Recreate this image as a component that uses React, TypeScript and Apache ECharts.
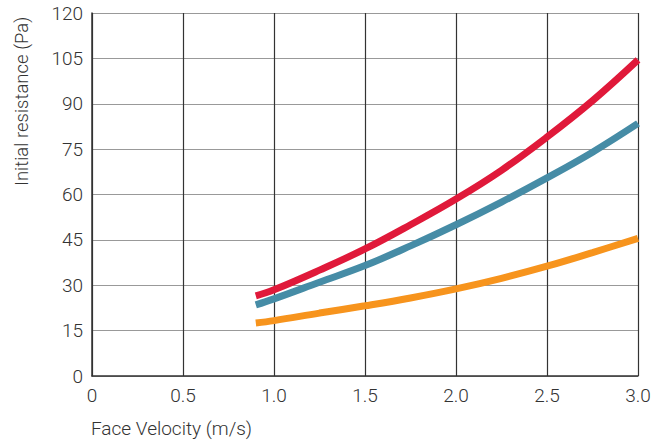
import React, { useEffect, useRef } from "react";
import * as echarts from "echarts";

const xValues = [0.9, 1.0, 1.25, 1.5, 1.75, 2.0, 2.25, 2.5, 2.75, 3.0];
const redValues = [26.5, 28.5, 35, 42, 50, 58.5, 68, 79, 91, 104.5];
const blueValues = [23.5, 25.5, 31, 36.5, 43, 50, 57.5, 65.5, 74, 83.5];
const orangeValues = [17.5, 18.3, 20.8, 23.2, 25.8, 28.8, 32.3, 36.3, 40.8, 45.5];
const xTitle = "Face Velocity (m/s)";
const yTitle = "Initial resistance (Pa)";

const FONT = "Roboto";

export default function App() {
  const ref = useRef<HTMLDivElement>(null);
  useEffect(() => {
    document.body.style.margin = "0";
    const chart = echarts.init(ref.current!, null, { renderer: "svg" });
    const mk = (vals: number[], color: string) => ({
      type: "line",
      data: xValues.map((x, i) => [x, vals[i]]),
      smooth: 0.4,
      showSymbol: false,
      symbol: "none",
      lineStyle: { color, width: 7, cap: "butt" },
      z: 3,
    });
    chart.setOption({
      animation: false,
      grid: { left: 92, right: 25, top: 13, bottom: 65 },
      xAxis: {
        type: "value",
        min: 0,
        max: 3,
        interval: 0.5,
        axisLine: { show: true, lineStyle: { color: "#333", width: 1.5 } },
        axisTick: { show: false },
        splitLine: { show: true, lineStyle: { color: "#333", width: 1.2 } },
        axisLabel: {
          color: "#333",
          fontSize: 19,
          fontFamily: FONT,
          fontWeight: 300,
          margin: 10,
          formatter: (v: number) => (v === 0 ? "0" : v.toFixed(1)),
        },
      },
      yAxis: {
        type: "value",
        min: 0,
        max: 120,
        interval: 15,
        axisLine: { show: true, lineStyle: { color: "#333", width: 1.5 } },
        axisTick: { show: false },
        splitLine: { show: true, lineStyle: { color: "#999", width: 1.2 } },
        axisLabel: {
          color: "#333",
          fontSize: 19,
          fontFamily: FONT,
          fontWeight: 300,
          margin: 9,
        },
      },
      graphic: [
        {
          type: "text",
          left: 91,
          top: 419,
          style: { text: xTitle, fill: "#333", fontSize: 19, fontFamily: FONT, fontWeight: 300 },
        },
        {
          type: "text",
          x: 12,
          y: 186,
          rotation: Math.PI / 2,
          style: {
            text: yTitle,
            fill: "#333",
            fontSize: 18.5,
            fontFamily: FONT,
            fontWeight: 300,
            textAlign: "left",
            textVerticalAlign: "top",
          },
        },
      ],
      series: [
        mk(orangeValues, "#f7941d"),
        mk(blueValues, "#468ca6"),
        mk(redValues, "#e0193a"),
      ],
    });
    return () => chart.dispose();
  }, []);
  return <div ref={ref} style={{ width: 663, height: 441 }} />;
}
